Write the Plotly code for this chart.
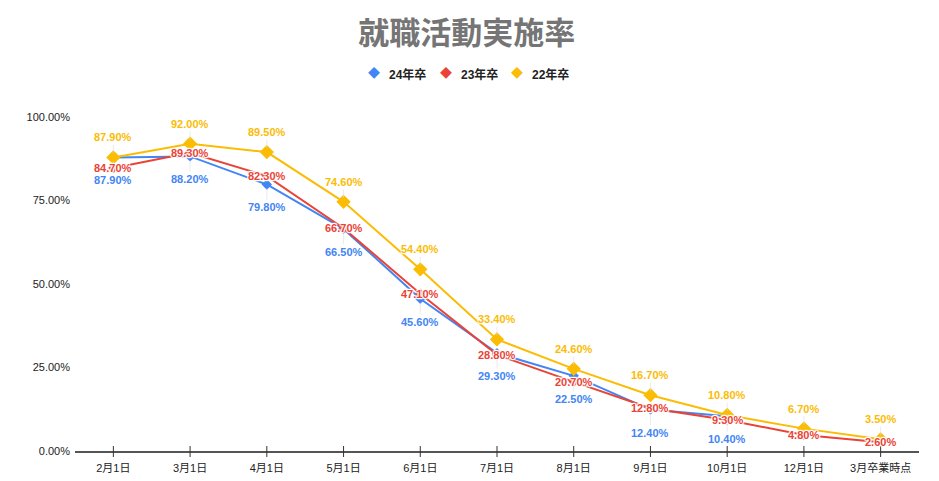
import plotly.graph_objects as go

categories = ["2月1日", "3月1日", "4月1日", "5月1日", "6月1日", "7月1日", "8月1日",
              "9月1日", "10月1日", "12月1日", "3月卒業時点"]
y24 = [87.9, 88.2, 79.8, 66.5, 45.6, 29.3, 22.5, 12.4, 10.4, None, None]
y23 = [84.7, 89.3, 82.3, 66.7, 47.1, 28.8, 20.7, 12.8, 9.3, 4.8, 2.6]
y22 = [87.9, 92.0, 89.5, 74.6, 54.4, 33.4, 24.6, 16.7, 10.8, 6.7, 3.5]
y_ticks = [0, 0.25, 0.5, 0.75, 1.0]

BLUE = "#4285F4"
RED = "#EA4335"
YELLOW = "#FBBC04"
FONT = "Arial, Liberation Sans, Noto Sans CJK JP, sans-serif"
WHITE_SHADOW = ("1px 1px 1px white, -1px -1px 1px white, 1px -1px 1px white, "
                "-1px 1px 1px white, 0px 1px 1px white, 0px -1px 1px white")

W, H = 939, 481
ML, MR, MT, MB = 75, 20, 117, 30
PW, PH = W - ML - MR, H - MT - MB

series = [
    ("24年卒", y24, BLUE, 8, -23),
    ("23年卒", y23, RED, 8, 0),
    ("22年卒", y22, YELLOW, 11, 20),
]

fig = go.Figure()
for name, vals, color, msize, _ in series:
    fig.add_trace(go.Scatter(
        x=categories, y=[v / 100 if v is not None else None for v in vals],
        name=name, mode="lines+markers", showlegend=False,
        line=dict(color=color, width=2),
        marker=dict(symbol="diamond", size=msize, color=color),
    ))

annotations = []
for name, vals, color, msize, shift in series:
    for c, v in zip(categories, vals):
        if v is None:
            continue
        a = dict(x=c, y=v / 100, xref="x", yref="y", text=f"{v:.2f}%",
                 font=dict(family=FONT, size=11, color=color, weight="bold",
                           shadow=WHITE_SHADOW))
        if shift == 0:
            a.update(showarrow=False)
        else:
            a.update(showarrow=True, ax=0, ay=-shift, arrowhead=0, arrowwidth=0.6,
                     arrowcolor="#dddddd", standoff=4)
        annotations.append(a)

# custom legend (marker glyph + label)
legend_y = (H - MB - 74) / PH
legend_marker_px = [374, 446, 517]
for (name, vals, color, msize, _), mx in zip(series, legend_marker_px):
    annotations.append(dict(xref="paper", yref="paper", x=(mx - ML) / PW, y=legend_y,
                            xanchor="center", yanchor="middle", showarrow=False,
                            text="◆", font=dict(family=FONT, size=12, color=color)))
    annotations.append(dict(xref="paper", yref="paper", x=(mx + 13 - ML) / PW, y=legend_y,
                            xanchor="left", yanchor="middle", showarrow=False,
                            text=name, font=dict(family=FONT, size=12, color="#222222",
                                                 weight="bold")))

shapes = [dict(type="line", xref="x", yref="paper", x0=c, x1=c, y0=-6 / PH, y1=5 / PH,
               line=dict(color="#333333", width=1)) for c in categories]

fig.update_layout(
    width=W, height=H,
    paper_bgcolor="white", plot_bgcolor="white",
    margin=dict(l=ML, r=MR, t=MT, b=MB, autoexpand=False),
    font=dict(family=FONT, size=11, color="#222222"),
    title=dict(text="<b>就職活動実施率</b>", x=0.497, xanchor="center", xref="container",
               y=1 - 33 / H, yanchor="middle",
               font=dict(family=FONT, size=31, color="#757575")),
    showlegend=False,
    annotations=annotations,
    shapes=shapes,
    xaxis=dict(range=[-0.5, len(categories) - 0.5], showline=True, linecolor="#555555",
               linewidth=1.5, ticks="", showgrid=False, zeroline=False, automargin=False,
               tickfont=dict(size=11, color="#222222"), ticklabelstandoff=6),
    yaxis=dict(range=[0, 1.0], tickvals=y_ticks, tickformat=".2%", showgrid=False,
               zeroline=False, showline=False, automargin=False,
               tickfont=dict(size=11, color="#222222"), ticklabelstandoff=4),
)

fig.write_html(
    "out.html",
    config={"responsive": False, "displayModeBar": False},
    post_script="document.body.style.margin='0';document.body.style.overflow='hidden';",
)
